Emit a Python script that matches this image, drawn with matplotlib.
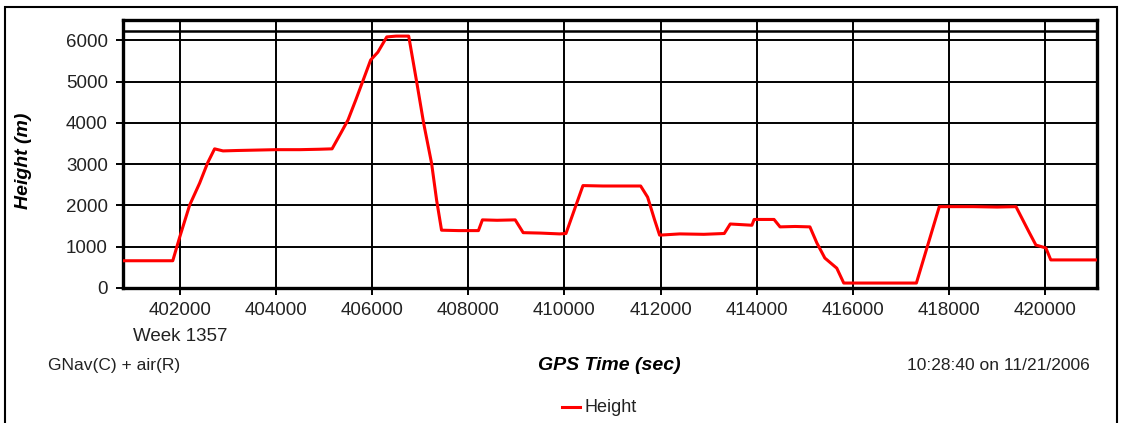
import matplotlib
matplotlib.use("Agg")
import matplotlib.pyplot as plt
from matplotlib.lines import Line2D

# ---- data ----
gps_time = [400820, 401855, 402000, 402207, 402414, 402580, 402725, 402900, 403200, 403600,
            404000, 404500, 404900, 405168, 405350, 405500, 405660, 405830, 405970,
            406120, 406306, 406500, 406762, 406928, 407073, 407238, 407342, 407445,
            407800, 408212, 408295, 408600, 408977, 409143, 409500, 409900, 410033,
            410386, 410800, 411300, 411586, 411731, 411876, 411980, 412400, 412900, 413325,
            413449, 413900, 413946, 414360, 414485, 414800, 415106, 415251, 415417, 415665,
            415810, 416500, 417321, 417797, 418500, 419000, 419392, 419661,
            419806, 420013, 420116, 421077]
height = [660, 660, 1235, 2010, 2540, 3030, 3370, 3320, 3330, 3340,
          3350, 3350, 3360, 3370, 3750, 4070, 4550, 5080, 5520,
          5710, 6080, 6100, 6100, 4990, 3990, 3020, 2130, 1400,
          1390, 1390, 1650, 1640, 1650, 1340, 1330, 1310, 1320,
          2480, 2470, 2470, 2470, 2200, 1650, 1280, 1310, 1300, 1320,
          1550, 1520, 1660, 1660, 1480, 1490, 1480, 1090, 725, 480,
          120, 120, 120, 1970, 1970, 1960, 1970, 1360,
          1040, 970, 680, 680]

x_ticks = [402000, 404000, 406000, 408000, 410000, 412000, 414000, 416000, 418000, 420000]
y_ticks = [0, 1000, 2000, 3000, 4000, 5000, 6000]

plt.rcParams['font.family'] = ['Liberation Sans', 'DejaVu Sans']

fig = plt.figure(figsize=(11.27, 4.23), dpi=100)
fig.patch.set_facecolor('white')

# outer frame
fig.add_artist(plt.Rectangle((5 / 1127, -0.05), (1117 - 5) / 1127, 1 - 7 / 423 + 0.05,
                             transform=fig.transFigure, fill=False, lw=1.5, ec='black'))

ax = fig.add_axes([123 / 1127, 1 - 288 / 423, (1097 - 123) / 1127, (288 - 20) / 423])
ax.set_xlim(400820, 421077)
ax.set_ylim(0, 6490)
ax.set_xticks(x_ticks)
ax.set_yticks(y_ticks)
ax.set_xticklabels([str(v) for v in x_ticks])
ax.set_yticklabels([str(v) for v in y_ticks])
ax.grid(True, color='black', lw=1.4)
ax.axhline(6220, color='black', lw=1.8)
for s in ax.spines.values():
    s.set_linewidth(2.4)
ax.tick_params(direction='out', length=5, width=1.4, labelsize=13.5, pad=6,
               colors='black', labelcolor='#222222')
ax.tick_params(axis='x', pad=5)

ax.plot(gps_time, height, color='#ff0000', lw=2.2, zorder=3)

fig.text(24 / 1127, 1 - 161 / 423, 'Height (m)', rotation=90, ha='center', va='center',
         fontsize=14, fontweight='bold', fontstyle='italic')

fig.text(180 / 1127, 1 - 336 / 423, 'Week 1357', ha='center', va='center', fontsize=13.5, color='#222222')
fig.text(48 / 1127, 1 - 365 / 423, 'GNav(C) + air(R)', ha='left', va='center', fontsize=12.5, color='#222222')
fig.text(609 / 1127, 1 - 365 / 423, 'GPS Time (sec)', ha='center', va='center', fontsize=14,
         fontweight='bold', fontstyle='italic')
fig.text(1090 / 1127, 1 - 365 / 423, '10:28:40 on 11/21/2006', ha='right', va='center', fontsize=12.5,
         color='#222222')

# legend
fig.add_artist(Line2D([562 / 1127, 580 / 1127], [1 - 407 / 423, 1 - 407 / 423],
                      transform=fig.transFigure, color='#ff0000', lw=2.2))
fig.text(585 / 1127, 1 - 407 / 423, 'Height', ha='left', va='center', fontsize=13, color='#222222')

fig.savefig('out.png', dpi=100)
